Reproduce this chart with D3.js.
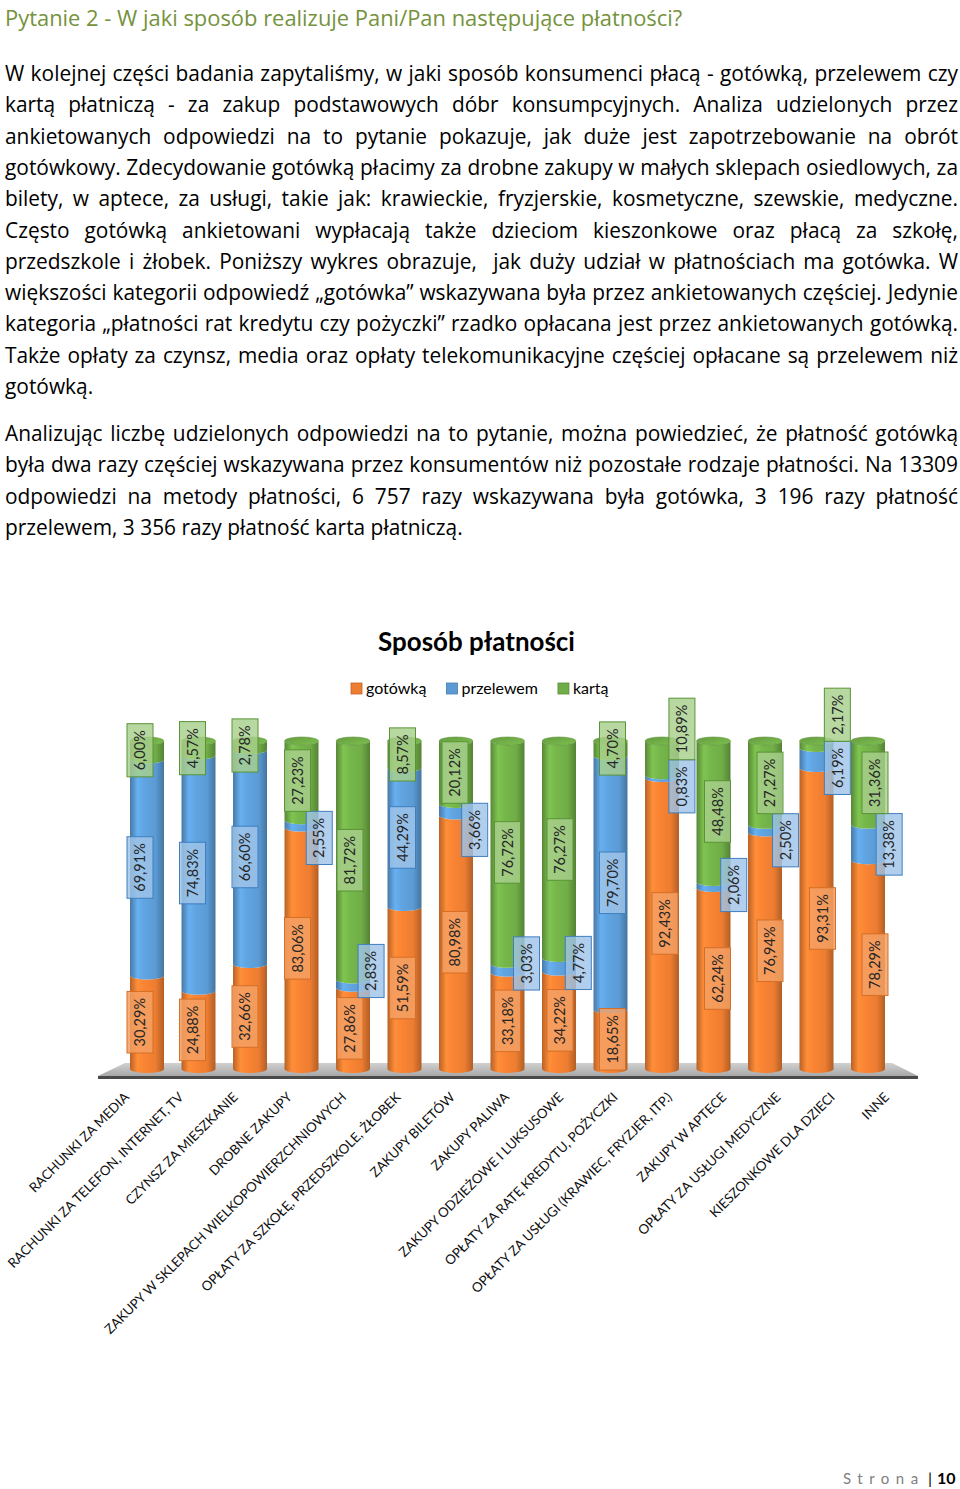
<!DOCTYPE html>
<html><head><meta charset="utf-8">
<script src="https://cdn.jsdelivr.net/npm/d3@7"></script>
<style>
html,body{margin:0;padding:0;background:#fff;}
body{width:960px;height:1489px;position:relative;overflow:hidden;}
svg{position:absolute;left:0;top:0;font-family:Lato,"Open Sans","Noto Sans",sans-serif;}
</style></head><body>
<svg id="page" width="960" height="1489"></svg>
<script>
// ---------- data ----------
const categories = [
  "RACHUNKI ZA MEDIA",
  "RACHUNKI ZA TELEFON, INTERNET, TV",
  "CZYNSZ ZA MIESZKANIE",
  "DROBNE ZAKUPY",
  "ZAKUPY W SKLEPACH WIELKOPOWIERZCHNIOWYCH",
  "OPŁATY ZA SZKOŁĘ, PRZEDSZKOLE, ŻŁOBEK",
  "ZAKUPY BILETÓW",
  "ZAKUPY PALIWA",
  "ZAKUPY ODZIEŻOWE I LUKSUSOWE",
  "OPŁATY ZA RATĘ KREDYTU, POŻYCZKI",
  "OPŁATY ZA USŁUGI (KRAWIEC, FRYZJER, ITP.)",
  "ZAKUPY W APTECE",
  "OPŁATY ZA USŁUGI MEDYCZNE",
  "KIESZONKOWE DLA DZIECI",
  "INNE"
];
const seriesNames = ["gotówką", "przelewem", "kartą"];
const gotowka   = [30.29, 24.88, 32.66, 83.06, 27.86, 51.59, 80.98, 33.18, 34.22, 18.65, 92.43, 62.24, 76.94, 93.31, 78.29];
const przelewem = [69.91, 74.83, 66.60,  2.55,  2.83, 44.29,  3.66,  3.03,  4.77, 79.70,  0.83,  2.06,  2.50,  6.19, 13.38];
const karta     = [ 6.00,  4.57,  2.78, 27.23, 81.72,  8.57, 20.12, 76.72, 76.27,  4.70, 10.89, 48.48, 27.27,  2.17, 31.36];
const seriesValues = [gotowka, przelewem, karta];
const seriesColors = ["#ED7D31", "#5B9BD5", "#70AD47"];

const pageTitle = "Pytanie 2 - W jaki sposób realizuje Pani/Pan następujące płatności?";
const paragraph1 = [
  "W kolejnej części badania zapytaliśmy, w jaki sposób konsumenci płacą - gotówką, przelewem czy",
  "kartą płatniczą - za zakup podstawowych dóbr konsumpcyjnych. Analiza udzielonych przez",
  "ankietowanych odpowiedzi na to pytanie pokazuje, jak duże jest zapotrzebowanie na obrót",
  "gotówkowy. Zdecydowanie gotówką płacimy za drobne zakupy w małych sklepach osiedlowych, za",
  "bilety, w aptece, za usługi, takie jak: krawieckie, fryzjerskie, kosmetyczne, szewskie, medyczne.",
  "Często gotówką ankietowani wypłacają także dzieciom kieszonkowe oraz płacą za szkołę,",
  "przedszkole i żłobek. Poniższy wykres obrazuje,  jak duży udział w płatnościach ma gotówka. W",
  "większości kategorii odpowiedź „gotówka” wskazywana była przez ankietowanych częściej. Jedynie",
  "kategoria „płatności rat kredytu czy pożyczki” rzadko opłacana jest przez ankietowanych gotówką.",
  "Także opłaty za czynsz, media oraz opłaty telekomunikacyjne częściej opłacane są przelewem niż",
  "gotówką."
];
const paragraph2 = [
  "Analizując liczbę udzielonych odpowiedzi na to pytanie, można powiedzieć, że płatność gotówką",
  "była dwa razy częściej wskazywana przez konsumentów niż pozostałe rodzaje płatności. Na 13309",
  "odpowiedzi na metody płatności, 6 757 razy wskazywana była gotówka, 3 196 razy płatność",
  "przelewem, 3 356 razy płatność karta płatniczą."
];
const chartTitle = "Sposób płatności";

// ---------- page text ----------
const svg = d3.select("#page");
const BODY_FONT = "'Open Sans',Lato,'Noto Sans',sans-serif";

function fitSize(sel, target, base){
  const w = sel.node().getComputedTextLength();
  const fs = base * target / w;
  sel.attr("font-size", fs);
  return fs;
}
const t = svg.append("text").attr("x",5).attr("y",26).attr("fill","#76923C")
  .attr("font-family",BODY_FONT).attr("font-size",18).text(pageTitle);
fitSize(t, 678, 18);

// body font size fitted so the last (unjustified) line has the reference width
const probe = svg.append("text").attr("font-family",BODY_FONT).attr("font-size",18)
  .attr("visibility","hidden").text(paragraph2[paragraph2.length-1]);
const BODY_SIZE = fitSize(probe, 458, 18);
probe.remove();

function bodyLine(text, x0, x1, yb, justify){
  const g = svg.append("text").attr("y",yb).attr("font-family",BODY_FONT)
    .attr("font-size",BODY_SIZE).attr("fill","#000");
  if(!justify){ g.attr("x",x0).text(text); return; }
  const words = text.split(" ");
  const spans = words.map(w => g.append("tspan").text(w));
  const widths = spans.map(s => s.node().getComputedTextLength());
  const gap = (x1 - x0 - d3.sum(widths)) / (words.length - 1);
  let cx = x0;
  spans.forEach((s,i)=>{ s.attr("x", cx); cx += widths[i] + gap; });
}
paragraph1.forEach((l,i)=> bodyLine(l, 5, 958, 81 + i*31.3, i < paragraph1.length-1));
paragraph2.forEach((l,i)=> bodyLine(l, 5, 958, 441 + i*31.3, i < paragraph2.length-1));

// ---------- chart ----------
const ct = svg.append("text").attr("x",476.5).attr("y",651).attr("text-anchor","middle")
  .attr("font-weight","bold").attr("font-size",23).attr("fill","#000").text(chartTitle);
fitSize(ct, 197, 23);

// legend
let lx = 351;
seriesNames.forEach((n,s)=>{
  svg.append("rect").attr("x",lx).attr("y",683).attr("width",11).attr("height",11)
    .attr("fill",seriesColors[s]).attr("stroke",d3.color(seriesColors[s]).darker(0.6)).attr("stroke-width",0.8);
  const tx = svg.append("text").attr("x",lx+15).attr("y",694).attr("font-size",16).attr("fill","#000").text(n);
  lx += 15 + tx.node().getComputedTextLength() + 20;
});

const rows = categories.map((c,i)=>{
  const o = {cat:c};
  seriesNames.forEach((n,s)=> o[n] = seriesValues[s][i]);
  return o;
});
const stacked = d3.stack().keys(seriesNames).offset(d3.stackOffsetExpand)(rows);

const x  = d3.scalePoint().domain(categories).range([147, 868]);
const xl = d3.scalePoint().domain(categories).range([130, 890]);
const y  = d3.scaleLinear().domain([0,1]).range([1069, 741]);
const R = 17, RY = 4;
const xMid = (x.range()[0] + x.range()[1]) / 2;

const defs = svg.append("defs");
seriesColors.forEach((c,s)=>{
  const g = defs.append("linearGradient").attr("id","cyl"+s).attr("x1",0).attr("x2",1).attr("y1",0).attr("y2",0);
  const base = d3.color(c);
  [[0, base.darker(0.7)],[0.22, base.brighter(0.35)],[0.42, base.brighter(0.15)],[0.75, base],[1, base.darker(0.8)]]
    .forEach(([o,col])=> g.append("stop").attr("offset",o).attr("stop-color",col));
  const tc = defs.append("linearGradient").attr("id","cap"+s).attr("x1",0).attr("x2",1).attr("y1",0).attr("y2",1);
  tc.append("stop").attr("offset",0).attr("stop-color",base.darker(0.3));
  tc.append("stop").attr("offset",1).attr("stop-color",base.brighter(0.3));
});
const fg = defs.append("linearGradient").attr("id","floor").attr("x1",0).attr("x2",0).attr("y1",0).attr("y2",1);
fg.append("stop").attr("offset",0).attr("stop-color","#d0d0d0");
fg.append("stop").attr("offset",1).attr("stop-color","#a8a8a8");

// floor
const fx0 = x(categories[0]), fx1 = x(categories[categories.length-1]);
const fTop = y(0) - 6, fBot = y(0) + 7;
svg.append("polygon")
  .attr("points", [[fx0-22,fTop],[fx1+24,fTop],[fx1+50,fBot],[fx0-49,fBot]].map(p=>p.join(",")).join(" "))
  .attr("fill","url(#floor)");
svg.append("rect").attr("x",fx0-49).attr("y",fBot).attr("width",(fx1+50)-(fx0-49)).attr("height",3)
  .attr("fill","#4a4a4a");

// cylinders
function segPath(cx, yTop, yBot){
  return `M${cx-R},${yTop} A${R},${RY} 0 0 0 ${cx+R},${yTop} L${cx+R},${yBot} A${R},${RY} 0 0 1 ${cx-R},${yBot} Z`;
}
categories.forEach((c,i)=>{
  const cx = x(c);
  const g = svg.append("g");
  stacked.forEach((ser,s)=>{
    const d = ser[i];
    g.append("path").attr("d", segPath(cx, y(d[1]), y(d[0]))).attr("fill","url(#cyl"+s+")");
  });
  const topS = stacked.length - 1;
  g.append("ellipse").attr("cx",cx).attr("cy",y(1)).attr("rx",R).attr("ry",RY)
    .attr("fill","url(#cap"+topS+")").attr("stroke",d3.color(seriesColors[topS]).darker(0.4)).attr("stroke-width",0.6);
});

// value labels
const fmt = v => d3.format(".2f")(v).replace(".", ",") + "%";
const meas = svg.append("text").attr("font-size",14.5).attr("visibility","hidden");
const lightFill = ["rgba(245,160,100,0.85)","rgba(160,197,232,0.82)","rgba(168,208,140,0.82)"];
const boxStroke = ["#d46f26","#3f7fc0","#5a9436"];

categories.forEach((c,i)=>{
  const cx = x(c);
  const ls = [];
  let prevShift = false;
  stacked.forEach((ser,s)=>{
    const d = ser[i];
    const frac = d[1]-d[0];
    const shift = s > 0 && frac < 0.12 && (s === 1 || prevShift);
    prevShift = shift;
    const txt = fmt(seriesValues[s][i]);
    meas.text(txt);
    const len = meas.node().getComputedTextLength();
    ls.push({s, txt, h: len + 13, shift,
      x: shift ? cx + 19 + (cx - xMid) * 0.006 : cx + (cx - xMid) * 0.0194,
      y: (y(d[0]) + y(d[1])) / 2});
  });
  for(let it=0; it<6; it++){
    ls.forEach(a=>{
      if(!a.shift) return;
      ls.forEach(b=>{
        if(a===b || Math.abs(a.x-b.x) >= 26) return;
        const ov = (a.h+b.h)/2 - Math.abs(a.y-b.y);
        if(ov <= 0.5) return;
        if(b.shift){
          if(a.s < b.s) return;
          const up = a.y <= b.y ? a : b, lo = up === a ? b : a;
          up.y -= ov*0.75; lo.y += ov*0.25;
        } else {
          a.y += (a.y >= b.y ? ov : -ov);
        }
      });
    });
  }
  ls.forEach(l=>{
    svg.append("rect").attr("x",l.x-13).attr("y",l.y-l.h/2).attr("width",26).attr("height",l.h)
      .attr("fill",lightFill[l.s]).attr("stroke",boxStroke[l.s]).attr("stroke-width",1);
    svg.append("text").attr("transform",`translate(${l.x},${l.y}) rotate(-90)`)
      .attr("text-anchor","middle").attr("dy","0.36em").attr("font-size",14.5).attr("fill","#262626").text(l.txt);
  });
});
meas.remove();

// category labels
categories.forEach(c=>{
  svg.append("text").attr("transform",`translate(${xl(c)},1098) rotate(-45)`)
    .attr("text-anchor","end").attr("font-size",13.3).attr("fill","#111").text(c);
});

// footer
svg.append("text").attr("x",843).attr("y",1484).attr("font-size",15).attr("letter-spacing",6.5)
  .attr("fill","#7f7f7f").text("Strona");
svg.append("text").attr("x",928).attr("y",1484).attr("font-size",16).attr("fill","#000").text("|");
svg.append("text").attr("x",937).attr("y",1484).attr("font-size",16).attr("font-weight","bold").attr("fill","#000").text("10");
</script></body></html>
